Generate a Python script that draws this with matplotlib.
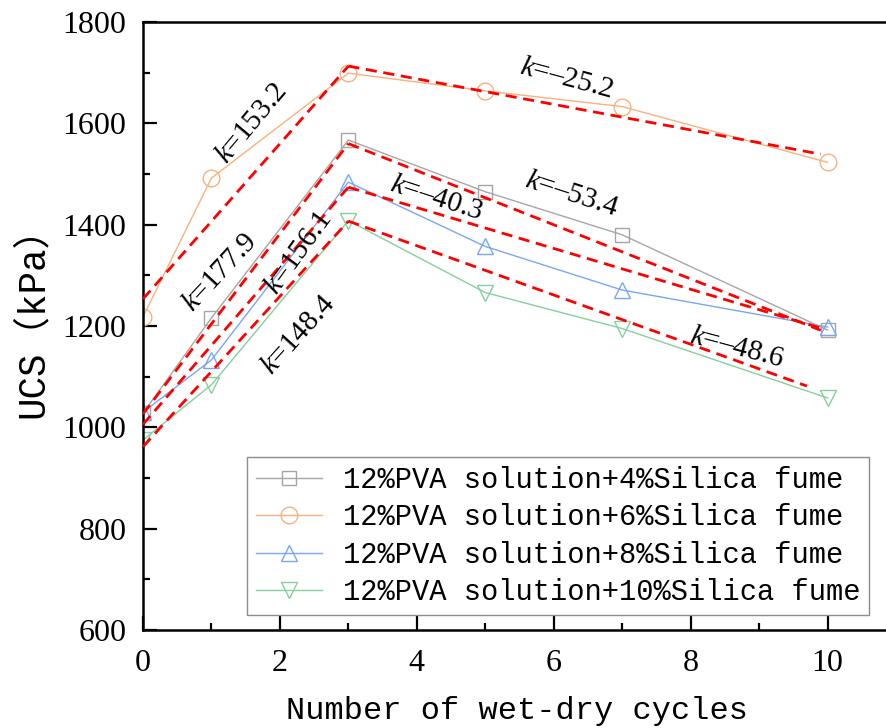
import numpy as np
import matplotlib.pyplot as plt

plt.rcParams["mathtext.fontset"] = "custom"
plt.rcParams["mathtext.it"] = "Liberation Serif:italic"
plt.rcParams["mathtext.rm"] = "Liberation Serif"

# wet-dry cycles and UCS (kPa) for each silica fume dosage
cycles = [0, 1, 3, 5, 7, 10]
ucs_4 = [1028, 1216, 1567, 1465, 1380, 1192]
ucs_6 = [1218, 1492, 1699, 1664, 1633, 1523]
ucs_8 = [1030, 1133, 1484, 1357, 1271, 1198]
ucs_10 = [975, 1084, 1408, 1266, 1195, 1058]

labels = ["12%PVA solution+4%Silica fume",
          "12%PVA solution+6%Silica fume",
          "12%PVA solution+8%Silica fume",
          "12%PVA solution+10%Silica fume"]

# piecewise linear fits: slope before / after the peak at cycle 3
k_rise = [177.9, 153.2, 156.1, 148.4]
k_fall = [-53.4, -25.2, -40.3, -48.6]
fit_peak = [1560, 1713, 1474, 1407]
fit_end = [9.9, 9.9, 9.9, 9.7]

colors = ["#a6a6a6", "#f7b27e", "#79a7ef", "#86cf9f"]
markers = ["s", "o", "^", "v"]
msizes = [9.5, 12, 12, 12]

# slope annotations: (x, y, rotation) per series, rise then fall
rise_txt = [(1.12, 1305, 47), (1.59, 1599, 50), (2.28, 1344, 54), (2.27, 1182, 48)]
fall_txt = [(6.26, 1459, -18), (6.19, 1689, -15), (4.29, 1453, -18), (8.67, 1157, -15)]

fig = plt.figure(figsize=(8.86, 7.28), dpi=100)
ax = fig.add_axes([143 / 886, 98 / 728, 753 / 886, 608 / 728])

series = [ucs_4, ucs_6, ucs_8, ucs_10]
for vals, c, m, ms, lab in zip(series, colors, markers, msizes, labels):
    ax.plot(cycles, vals, color=c, lw=1.0, marker=m, ms=ms, mfc="none",
            mec=c, mew=1.0, label=lab, zorder=2)

for kr, kf, pk, xe in zip(k_rise, k_fall, fit_peak, fit_end):
    xr = np.array([0, 3])
    xf = np.array([3, xe])
    ax.plot(xr, pk + kr * (xr - 3), color="red", ls=(0, (4, 2.4)), lw=2.0, zorder=3)
    ax.plot(xf, pk + kf * (xf - 3), color="red", ls=(0, (4, 2.4)), lw=2.0, zorder=3)

tfont = dict(family="Liberation Serif", size=21, ha="center", va="center",
             rotation_mode="anchor", zorder=4)
for kr, (x, y, r) in zip(k_rise, rise_txt):
    ax.text(x, y, r"$k$" + f"={kr:.1f}", rotation=r, **tfont)
for kf, (x, y, r) in zip(k_fall, fall_txt):
    ax.text(x, y, r"$k$" + f"=\u2013{abs(kf):.1f}", rotation=r, **tfont)

ax.set_xlim(0, 11)
ax.set_ylim(600, 1800)
ax.set_xticks([0, 2, 4, 6, 8, 10])
ax.set_xticks([1, 3, 5, 7, 9, 11], minor=True)
ax.set_yticks(np.arange(600, 1801, 200))
ax.set_yticks(np.arange(700, 1800, 200), minor=True)

ax.tick_params(which="both", direction="in", width=1.6, top=False, right=False)
ax.tick_params(which="major", length=10)
ax.tick_params(which="minor", length=5)
ax.tick_params(axis="y", pad=12)
ax.tick_params(axis="x", pad=14)
for lbl in ax.get_xticklabels() + ax.get_yticklabels():
    lbl.set_family("Liberation Serif")
    lbl.set_fontsize(23)

for sp in ax.spines.values():
    sp.set_linewidth(1.8)

ax.set_xlabel("Number of wet-dry cycles", family="Liberation Mono", fontsize=23)
ax.xaxis.set_label_coords(0.497, -0.108)
ax.set_ylabel("UCS（kPa）", family=["Liberation Mono", "Noto Sans CJK SC"], fontsize=27)
ax.yaxis.set_label_coords(-0.123, 0.522)

leg = ax.legend(loc="lower left", bbox_to_anchor=(247 / 886, 113 / 728),
                bbox_transform=fig.transFigure, prop={"family": "Liberation Mono", "size": 20.7},
                frameon=True, fancybox=False, edgecolor="#8c8c8c", framealpha=1,
                handlelength=2.3, handletextpad=0.75, labelspacing=0.33,
                borderpad=0.3, borderaxespad=0)
leg.get_frame().set_linewidth(1.0)

fig.savefig("out.png", dpi=100)
